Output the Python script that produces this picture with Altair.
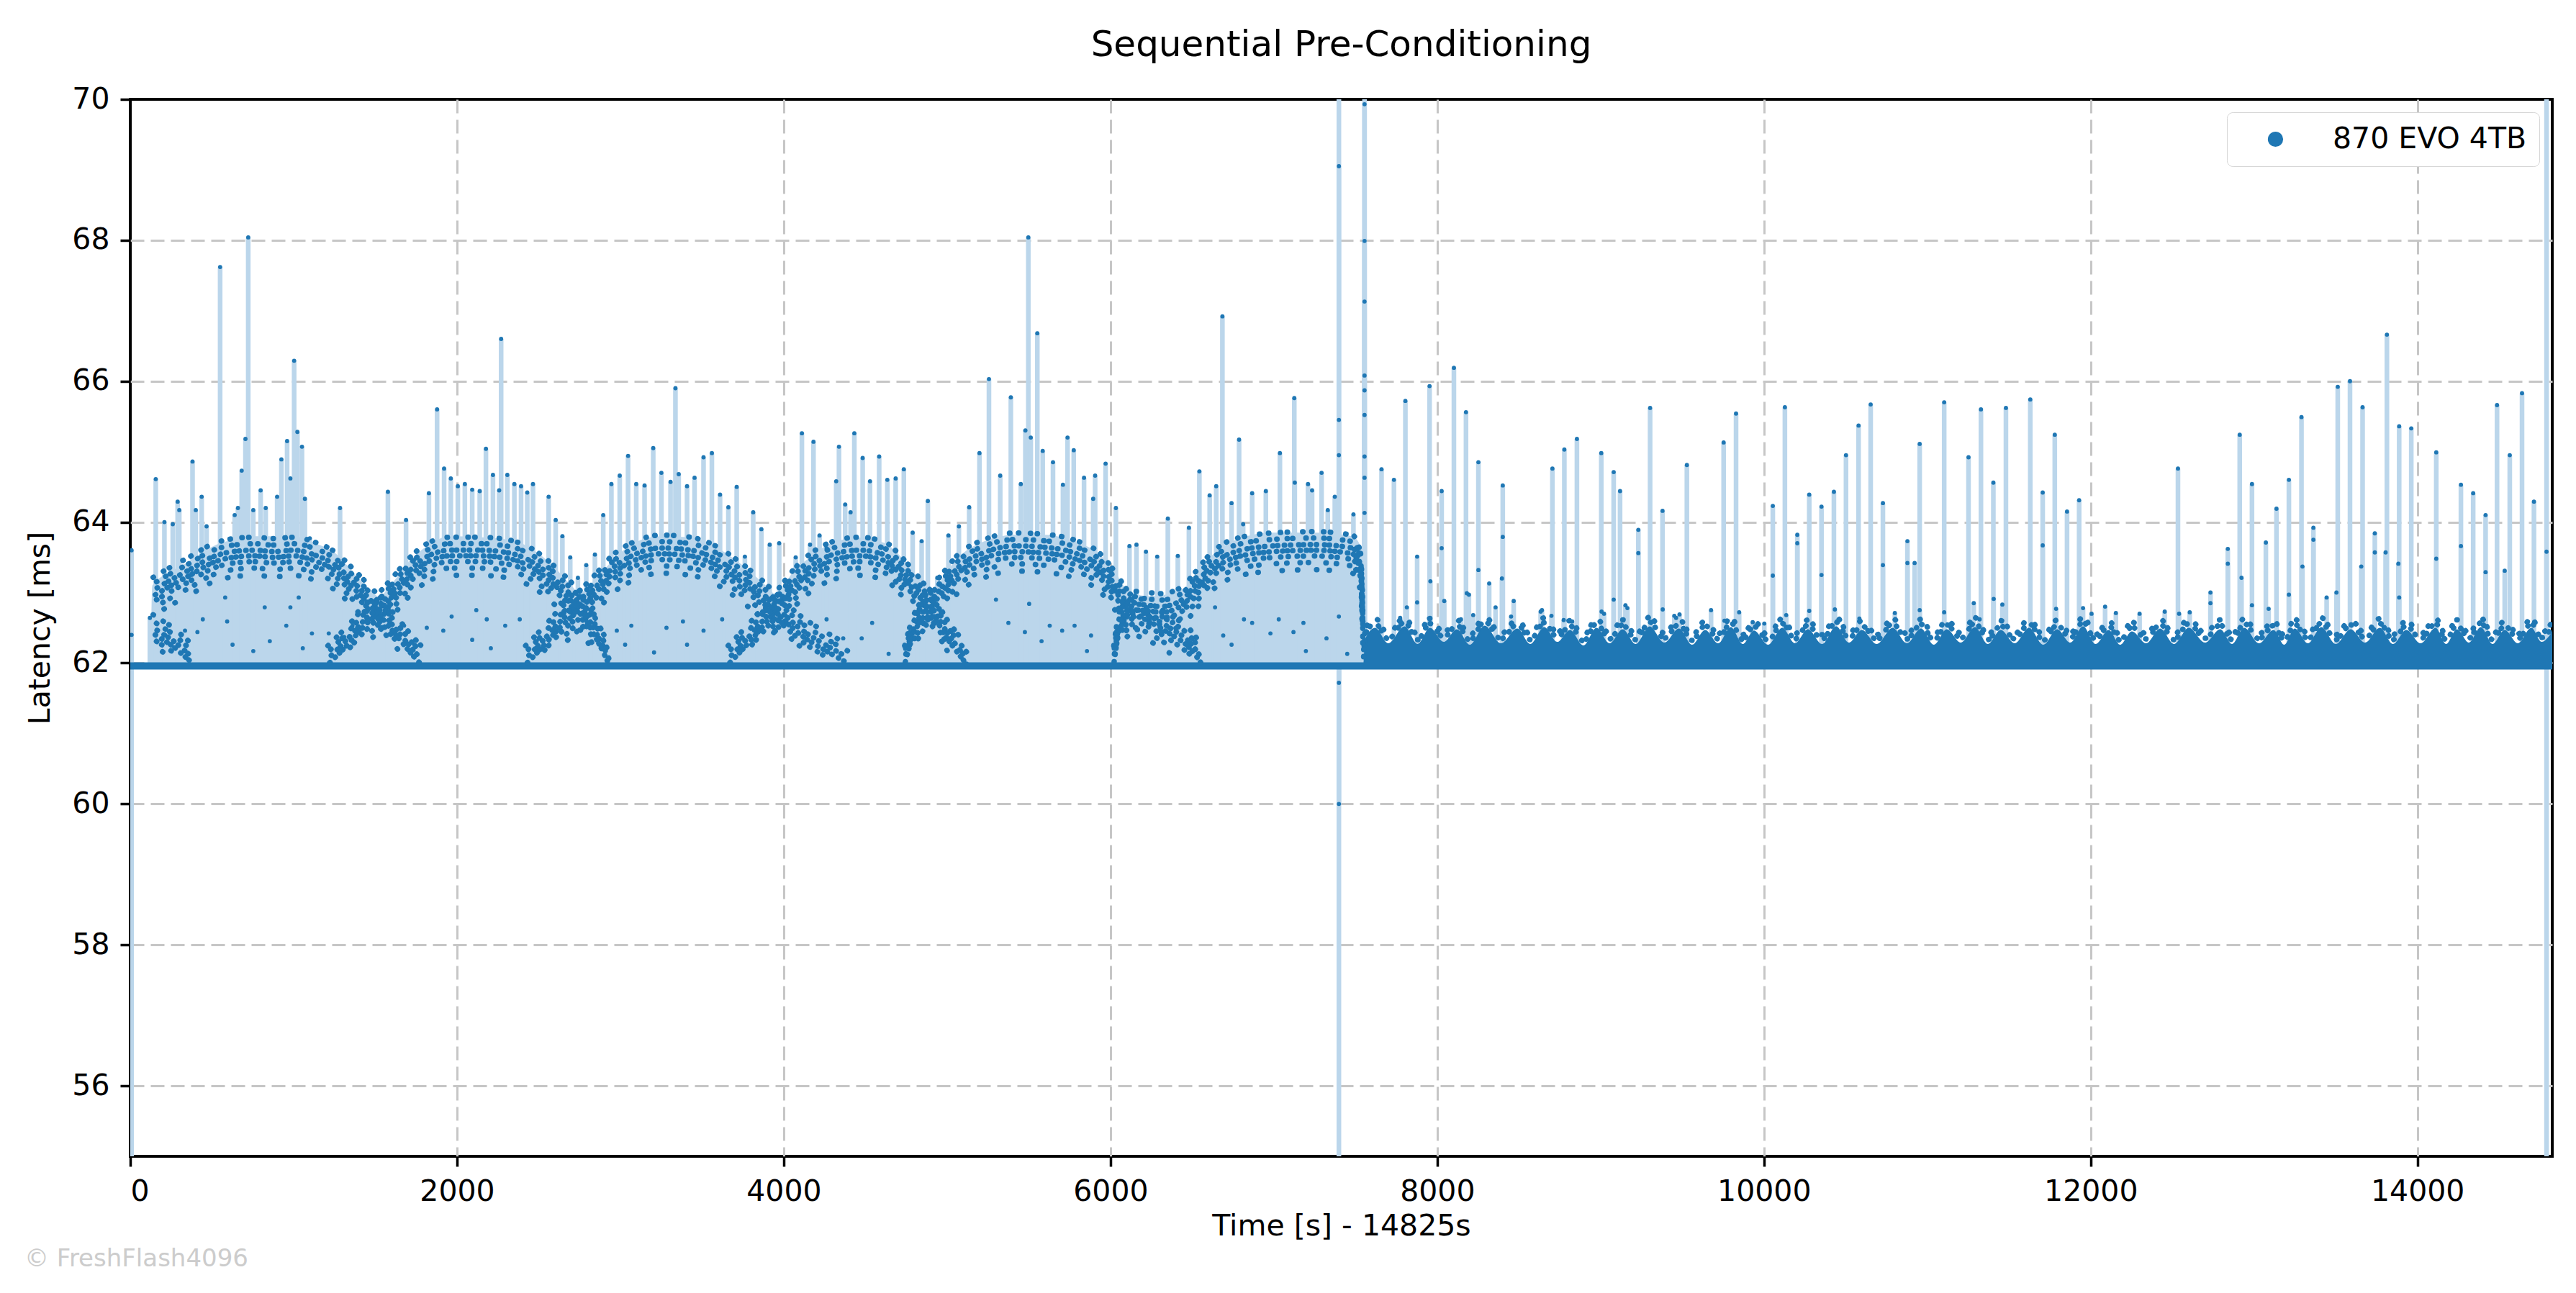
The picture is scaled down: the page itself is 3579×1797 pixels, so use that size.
import altair as alt
import pandas as pd

SERIES = "870 EVO 4TB"
BLUE = "#1f77b4"
LIGHT = "#bbd6eb"
FONT = "DejaVu Sans"
BASE = 61.96  # floor latency (ms), stems start here

x_ticks = [0, 2000, 4000, 6000, 8000, 10000, 12000, 14000]
y_ticks = [56, 58, 60, 62, 64, 66, 68, 70]

# isolated samples above/below the floor: (time s, latency ms)
spikes = [
    (8, 63.6), (8, 62.4), (8, 53.0), (120, 62.64), (156, 64.61), (209, 64.0), (260, 63.97),
    (290, 64.29), (300, 64.17), (381, 64.86), (401, 64.17), (437, 64.36), (467, 63.94),
    (550, 67.62), (639, 64.1), (659, 64.2), (682, 64.73), (705, 65.18), (722, 68.04),
    (753, 64.17), (798, 64.45), (829, 64.2), (899, 64.36), (925, 64.89), (960, 65.15),
    (980, 64.62), (1003, 66.29), (1023, 65.28), (1051, 65.07), (1069, 64.33), (1099, 63.77),
    (1284, 64.2), (1577, 64.43), (1688, 64.03), (1828, 64.41), (1878, 65.6), (1921, 64.76),
    (1962, 64.62), (2005, 64.51), (2048, 64.54), (2093, 64.46), (2139, 64.44), (2177, 65.04),
    (2220, 64.67), (2258, 64.45), (2270, 66.6), (2308, 64.67), (2351, 64.54), (2392, 64.51),
    (2430, 64.42), (2465, 64.54), (2561, 64.36), (2604, 64.03), (2645, 63.8), (2693, 63.5),
    (2740, 63.21), (2791, 63.39), (2844, 63.54), (2895, 64.1), (2945, 64.54), (2996, 64.66),
    (3047, 64.94), (3097, 64.54), (3148, 64.52), (3201, 65.05), (3251, 64.7), (3307, 64.57),
    (3337, 65.9), (3357, 64.68), (3408, 64.51), (3454, 64.63), (3509, 64.92), (3560, 64.98),
    (3610, 64.39), (3661, 64.21), (3712, 64.5), (3762, 63.51), (3813, 64.14), (3863, 63.9),
    (3914, 63.68), (3972, 63.7), (4073, 63.5), (4111, 65.26), (4161, 63.68), (4182, 65.14),
    (4219, 63.81), (4262, 63.63), (4321, 64.58), (4338, 65.07), (4376, 64.25), (4409, 64.14),
    (4432, 65.26), (4483, 64.91), (4528, 64.58), (4584, 64.93), (4634, 64.6), (4685, 64.62),
    (4735, 64.75), (4789, 63.85), (4844, 63.73), (4882, 64.3), (4940, 63.21), (5008, 63.81),
    (5072, 63.94), (5135, 64.21), (5198, 64.98), (5256, 66.03), (5325, 64.66), (5390, 65.77),
    (5451, 64.54), (5479, 65.3), (5497, 68.04), (5512, 65.2), (5552, 66.68), (5585, 65.01),
    (5648, 64.85), (5709, 64.53), (5737, 65.2), (5775, 65.02), (5838, 64.63), (5894, 64.33),
    (5906, 64.66), (5970, 64.83), (6033, 64.2), (6116, 63.66), (6159, 63.68), (6217, 63.58),
    (6286, 63.51), (6351, 64.05), (6412, 63.52), (6480, 63.92), (6544, 64.72), (6607, 64.38),
    (6647, 64.51), (6685, 66.92), (6741, 64.27), (6787, 65.17), (6812, 63.97), (6867, 64.41),
    (6951, 64.44), (7037, 64.98), (7125, 65.76), (7128, 64.56), (7209, 64.54), (7234, 64.45),
    (7292, 64.7), (7330, 64.17), (7373, 64.36),
    (7398, 72.0), (7398, 69.05), (7398, 65.45), (7398, 64.95), (7398, 61.72), (7398, 60.0),
    (7398, 53.0), (7487, 64.11),
    (7555, 72.0), (7555, 69.93), (7555, 67.99), (7555, 67.13), (7555, 66.08), (7555, 65.87),
    (7555, 65.52), (7555, 64.93), (7555, 64.63), (7555, 64.13),
    (7659, 64.75), (7735, 64.6), (7773, 62.64), (7805, 65.72), (7814, 62.79), (7877, 63.51),
    (7877, 62.86), (7953, 65.93), (7958, 63.16), (8027, 64.44), (8027, 63.63), (8043, 62.88),
    (8102, 66.19), (8145, 62.62), (8176, 65.56), (8181, 62.99), (8194, 62.97), (8220, 62.68),
    (8252, 64.85), (8252, 63.32), (8318, 63.13), (8357, 62.79), (8401, 64.52), (8401, 63.79),
    (8396, 63.2), (8452, 62.66), (8468, 62.88), (8633, 62.73), (8641, 62.75), (8699, 62.67),
    (8705, 64.76), (8774, 62.61), (8778, 65.03), (8826, 62.59), (8855, 65.18), (9004, 64.98),
    (9006, 62.73), (9021, 62.7), (9080, 64.71), (9080, 62.9), (9119, 64.44), (9152, 62.82),
    (9164, 62.78), (9231, 63.89), (9231, 63.56), (9303, 65.62), (9379, 64.16), (9380, 62.76),
    (9451, 62.67), (9462, 62.64), (9483, 62.69), (9528, 64.81), (9676, 62.75), (9753, 65.13),
    (9758, 62.6), (9829, 65.54), (9848, 62.72), (9931, 62.58), (10002, 62.56), (10054, 64.23),
    (10054, 63.24), (10128, 65.63), (10136, 62.68), (10204, 63.82), (10204, 63.7),
    (10277, 64.39), (10277, 62.74), (10352, 64.22), (10352, 63.25), (10428, 64.43),
    (10434, 62.76), (10502, 64.95), (10579, 65.37), (10584, 62.63), (10653, 65.67),
    (10728, 64.27), (10728, 63.39), (10801, 62.71), (10878, 63.73), (10878, 63.42),
    (10922, 63.42), (10953, 65.11), (10953, 62.75), (11103, 65.7), (11103, 62.72),
    (11252, 64.92), (11284, 62.85), (11320, 62.62), (11328, 65.6), (11404, 64.56),
    (11406, 62.91), (11459, 62.83), (11481, 65.62), (11630, 65.74), (11706, 64.42),
    (11706, 63.67), (11780, 65.24), (11788, 62.77), (11855, 64.15), (11929, 64.31),
    (11953, 62.78), (12005, 62.7), (12088, 62.8), (12154, 62.71), (12299, 62.7), (12453, 62.73),
    (12534, 64.76), (12541, 62.7), (12606, 62.72), (12733, 63.0), (12733, 62.85), (12839, 63.62),
    (12839, 63.41), (12912, 65.24), (12923, 63.21), (12987, 64.54), (12987, 62.82),
    (13072, 63.71), (13089, 62.77), (13137, 64.19), (13213, 64.6), (13213, 62.97),
    (13290, 65.49), (13296, 63.37), (13363, 63.92), (13363, 63.75), (13444, 62.93),
    (13512, 65.92), (13504, 63.0), (13587, 66.0), (13664, 65.63), (13656, 63.37),
    (13739, 63.84), (13739, 63.57), (13813, 66.66), (13805, 63.57), (13888, 65.36),
    (13883, 63.41), (13888, 62.93), (13962, 65.33), (14115, 64.99), (14115, 63.48),
    (14266, 64.53), (14266, 63.66), (14341, 64.41), (14417, 64.1), (14417, 63.29),
    (14487, 65.66), (14534, 63.31), (14565, 64.95), (14640, 65.83), (14713, 64.29),
    (14790, 72.0), (14790, 63.58), (14790, 53.0),
]

# upper edge of the dense pale fill under the arches (first half of the run)
dome_fill = [
    (125, 61.96), (135, 63.1), (250, 63.3), (370, 63.45), (500, 63.65), (630, 63.75),
    (760, 63.8), (1000, 63.8), (1130, 63.7), (1260, 63.55), (1360, 63.3), (1460, 63.05),
    (1520, 62.95), (1610, 63.15), (1690, 63.4), (1810, 63.65), (1960, 63.8), (2320, 63.75),
    (2470, 63.6), (2600, 63.35), (2700, 63.1), (2750, 63.0), (2850, 63.2), (2950, 63.45),
    (3080, 63.7), (3250, 63.8), (3430, 63.78), (3580, 63.65), (3740, 63.4), (3890, 63.1),
    (3950, 62.98), (4060, 63.3), (4160, 63.5), (4290, 63.7), (4460, 63.78), (4620, 63.7),
    (4720, 63.5), (4820, 63.22), (4920, 63.0), (4970, 63.2), (5070, 63.5), (5220, 63.72),
    (5420, 63.82), (5600, 63.82), (5780, 63.72), (5930, 63.55), (6030, 63.28), (6110, 63.02),
    (6230, 62.95), (6360, 62.98), (6440, 63.05), (6510, 63.2), (6610, 63.5), (6740, 63.72),
    (6990, 63.85), (7250, 63.85), (7480, 63.8), (7540, 63.6), (7550, 62.3), (7555, 61.96),
]

# centre lines of the dot arches
arc0 = [(140, 62.42), (200, 62.33), (260, 62.24), (320, 62.12), (380, 62.0)]
arc1 = [(140, 62.95), (250, 63.1), (370, 63.25), (500, 63.42), (630, 63.5), (760, 63.52),
        (880, 63.5), (1000, 63.52), (1130, 63.45), (1260, 63.3), (1360, 63.08), (1460, 62.84),
        (1540, 62.64), (1640, 62.36), (1740, 62.08), (1780, 61.98)]
arc2 = [(1210, 61.98), (1330, 62.26), (1430, 62.52), (1510, 62.7), (1610, 62.96), (1690, 63.18),
        (1810, 63.42), (1960, 63.52), (2140, 63.52), (2320, 63.48), (2470, 63.34), (2600, 63.1),
        (2700, 62.88), (2750, 62.76), (2830, 62.44), (2900, 62.13), (2930, 61.98)]
arc3 = [(2420, 61.98), (2520, 62.22), (2620, 62.48), (2750, 62.76), (2850, 63.0), (2950, 63.26),
        (3080, 63.45), (3250, 63.55), (3430, 63.52), (3580, 63.4), (3740, 63.15), (3890, 62.86),
        (3960, 62.7), (4110, 62.39), (4260, 62.17), (4390, 62.0)]
arc4 = [(3660, 61.98), (3790, 62.3), (3890, 62.57), (3985, 62.84), (4060, 63.06), (4160, 63.28),
        (4290, 63.45), (4460, 63.52), (4620, 63.45), (4720, 63.24), (4820, 62.97), (4920, 62.66),
        (5000, 62.35), (5070, 62.13), (5120, 61.98)]
arc5 = [(4740, 61.98), (4790, 62.38), (4870, 62.7), (4970, 63.0), (5070, 63.28), (5220, 63.48),
        (5420, 63.58), (5600, 63.56), (5780, 63.48), (5930, 63.3), (6030, 63.02), (6110, 62.75),
        (6230, 62.6), (6360, 62.42), (6490, 62.2), (6560, 61.98)]
arc6 = [(6020, 61.98), (6060, 62.5), (6160, 62.75), (6310, 62.72), (6440, 62.82), (6510, 63.0),
        (6610, 63.28), (6740, 63.48), (6990, 63.58), (7250, 63.6), (7480, 63.55), (7530, 63.3),
        (7545, 62.5)]
arcs = {"a0": arc0, "a1": arc1, "a2": arc2, "a3": arc3, "a4": arc4, "a5": arc5, "a6": arc6}

# loose dots inside the arches
scatter = [
    (444, 62.62), (581, 62.93), (593, 62.59), (955, 62.53), (1112, 62.42), (1215, 62.42),
    (823, 62.79), (980, 62.79), (1031, 62.93), (854, 62.31), (335, 62.46), (411, 62.44),
    (626, 62.26), (753, 62.17), (1056, 62.21), (1309, 62.37), (1360, 62.53), (1676, 62.53),
    (1815, 62.5), (1916, 62.46), (1967, 62.66), (2118, 62.75), (2182, 62.62), (2295, 62.53),
    (2384, 62.62), (2093, 62.33), (2207, 62.21), (2978, 62.46), (3067, 62.53), (3282, 62.5),
    (3383, 62.59), (3509, 62.46), (3623, 62.62), (3029, 62.26), (3206, 62.15), (3408, 62.26),
    (4262, 62.62), (4364, 62.35), (4541, 62.57), (4642, 62.13), (4477, 62.35), (5299, 62.9),
    (5375, 62.57), (5502, 62.84), (5476, 62.44), (5628, 62.53), (5780, 62.53), (5704, 62.46),
    (5578, 62.31), (5881, 62.39), (5856, 62.17), (6817, 62.62), (6867, 62.57), (6979, 62.42),
    (7030, 62.62), (7181, 62.57), (7120, 62.44), (7322, 62.35), (6640, 62.79), (6690, 62.39),
    (6741, 62.26), (7196, 62.17), (7449, 62.13), (7398, 62.66),
]

# top of the dense dot band in the second half of the run
band = [
    (7548, 61.96), (7560, 62.35), (7620, 62.5), (7700, 62.28), (7800, 62.52), (7880, 62.27),
    (7955, 62.5), (8040, 62.3), (8120, 62.48), (8200, 62.26), (8290, 62.53), (8390, 62.28),
    (8490, 62.49), (8570, 62.27), (8655, 62.51), (8735, 62.3), (8812, 62.47), (8895, 62.25),
    (8975, 62.5), (9055, 62.28), (9135, 62.48), (9215, 62.27), (9300, 62.52), (9390, 62.29),
    (9480, 62.49), (9560, 62.26), (9640, 62.47), (9720, 62.28), (9797, 62.51), (9870, 62.27),
    (9939, 62.46), (10025, 62.26), (10112, 62.5), (10190, 62.28), (10269, 62.48), (10355, 62.27),
    (10442, 62.52), (10520, 62.29), (10599, 62.47), (10690, 62.27), (10788, 62.5), (10875, 62.28),
    (10961, 62.49), (11040, 62.26), (11119, 62.48), (11205, 62.29), (11292, 62.51), (11370, 62.27),
    (11449, 62.47), (11535, 62.28), (11622, 62.5), (11710, 62.26), (11795, 62.48), (11875, 62.29),
    (11953, 62.52), (12030, 62.27), (12110, 62.47), (12180, 62.26), (12252, 62.45), (12340, 62.28),
    (12425, 62.49), (12510, 62.27), (12600, 62.5), (12700, 62.29), (12793, 62.48), (12865, 62.27),
    (12940, 62.5), (13030, 62.28), (13119, 62.47), (13185, 62.26), (13249, 62.49), (13330, 62.28),
    (13412, 62.51), (13500, 62.27), (13591, 62.48), (13680, 62.29), (13770, 62.5), (13850, 62.27),
    (13932, 62.47), (14020, 62.28), (14111, 62.5), (14175, 62.27), (14241, 62.48), (14315, 62.29),
    (14388, 62.51), (14460, 62.27), (14534, 62.47), (14615, 62.28), (14697, 62.5), (14760, 62.3),
    (14825, 62.45),
]

floor_line = [(0, BASE), (14825, BASE)]


def frame(rows):
    return pd.DataFrame(rows, columns=["t", "v"])


spike_df = frame(spikes)
spike_df["series"] = SERIES
arc_df = pd.concat([frame(pts).assign(arc=k) for k, pts in arcs.items()])
band_df = frame(band)

# hide the grid lines that sit on the frame (x=0, y=70) so the black border shows
x = alt.X("t:Q", scale=alt.Scale(domain=[0, 14825], nice=False, zero=False),
          axis=alt.Axis(values=x_ticks, format="d", title="Time [s] - 14825s", titlePadding=8,
                        gridOpacity={"condition": {"test": "datum.value === 0", "value": 0}, "value": 1}))
y = alt.Y("v:Q", scale=alt.Scale(domain=[55, 70], nice=False, zero=False),
          axis=alt.Axis(values=y_ticks, format="d", title="Latency [ms]", titlePadding=22,
                        gridOpacity={"condition": {"test": "datum.value === 70", "value": 0}, "value": 1}))


def dotted(data, dy, dash, off, detail=None, above=None):
    # one strand of dots following a centre line, shifted by dy pixels
    enc = dict(x=x, y=y)
    if detail:
        enc["detail"] = detail
    base = alt.Chart(data)
    if above is not None:
        # strands below the centre stop before they would dip under the floor
        base = base.transform_filter(f"datum.v > {above}")
    return base.mark_line(
        color=BLUE, strokeWidth=7.5, strokeCap="round", strokeDash=dash, strokeDashOffset=off,
        yOffset=dy, interpolate="monotone", clip=True).encode(**enc)


fill = alt.Chart(frame(dome_fill)).mark_area(color=LIGHT, interpolate="monotone", clip=True).encode(
    x=x, y=y, y2=alt.datum(BASE))
stems = alt.Chart(spike_df).mark_rule(color=LIGHT, strokeWidth=6.5, clip=True).encode(
    x=x, y=y, y2=alt.datum(BASE))
floor = alt.Chart(frame(floor_line)).mark_line(color=BLUE, strokeWidth=10, clip=True).encode(x=x, y=y)
band_area = alt.Chart(band_df).mark_area(color=BLUE, interpolate="monotone", clip=True).encode(
    x=x, y=y, y2=alt.datum(BASE))

# each arch is a loose band of dots: several irregular dotted strands around the centre line
arch_strands = [
    (-26, [0.5, 16, 0.5, 9, 0.5, 21, 0.5, 12], 0, None),
    (-17, [0.5, 10, 0.5, 14, 0.5, 7, 0.5, 18], 5, None),
    (-8, [0.5, 8, 0.5, 11, 0.5, 6, 0.5, 9], 2, None),
    (0, [0.5, 7, 0.5, 10, 0.5, 8, 0.5, 6], 4, None),
    (8, [0.5, 12, 0.5, 8, 0.5, 15, 0.5, 10], 7, 62.15),
    (17, [0.5, 18, 0.5, 11, 0.5, 24, 0.5, 14], 3, 62.3),
    (27, [0.5, 26, 0.5, 17, 0.5, 33, 0.5, 21], 9, 62.4),
]
arch_layers = [dotted(arc_df, dy, dash, off, "arc:N", above) for dy, dash, off, above in arch_strands]

band_strands = [
    (-6, [0.5, 9, 0.5, 14, 0.5, 7, 0.5, 12], 3),
    (-13, [0.5, 15, 0.5, 22, 0.5, 11, 0.5, 19], 6),
]
band_layers = [dotted(band_df, dy, dash, off) for dy, dash, off in band_strands]

loose = alt.Chart(frame(scatter)).mark_circle(color=BLUE, size=34, opacity=1, clip=True).encode(x=x, y=y)
dots = alt.Chart(spike_df).mark_circle(size=34, opacity=1, clip=True).encode(
    x=x, y=y,
    color=alt.Color("series:N", scale=alt.Scale(domain=[SERIES], range=[BLUE]),
                    legend=alt.Legend(title=None, orient="top-right", offset=18, padding=17,
                                      symbolType="circle", symbolSize=450, symbolOffset=30,
                                      labelOffset=59, labelFontSize=41, labelFont=FONT,
                                      labelLimit=1000, labelColor="black", strokeColor="#d6d6d6",
                                      fillColor="white", cornerRadius=8)))
mark_txt = alt.Chart(pd.DataFrame({"txt": ["© FreshFlash4096"]})).mark_text(
    align="left", baseline="alphabetic", fontSize=34, color="#cccccc", font=FONT).encode(
    x=alt.value(-147), y=alt.value(1622), text="txt:N")

chart = alt.layer(fill, stems, floor, band_area, *band_layers, *arch_layers, loose, dots,
                  mark_txt).properties(
    width=3365, height=1469,
    padding={"left": 173, "top": 130, "right": 25, "bottom": 182},
    autosize=alt.AutoSizeParams(type="none"),
    title=alt.TitleParams("Sequential Pre-Conditioning", fontSize=50, font=FONT,
                          fontWeight="normal", color="black", anchor="middle",
                          frame="group", offset=29),
).configure_view(stroke="black", strokeWidth=4).configure_axis(
    domain=False, grid=True, gridColor="#c6c6c6", gridDash=[19, 9], gridWidth=3,
    tickColor="black", tickSize=14, tickWidth=3.5, labelPadding=15,
    labelFont=FONT, labelFontSize=41, labelColor="black",
    titleFont=FONT, titleFontSize=41, titleFontWeight="normal", titleColor="black",
)

chart.save("out.html", embed_options={"renderer": "svg", "actions": False})
